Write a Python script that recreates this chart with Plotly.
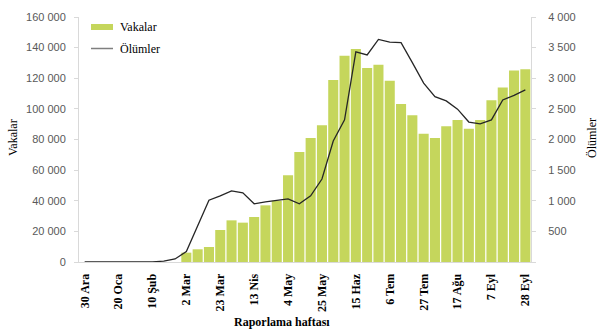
import plotly.graph_objects as go

# ---- data ----
week_days = [30, 6, 13, 20, 27, 3, 10, 17, 24, 2, 9, 16, 23, 30, 6, 13, 20, 27, 4, 11,
             18, 25, 1, 8, 15, 22, 29, 6, 13, 20, 27, 3, 10, 17, 24, 31, 7, 14, 21, 28]
week_months = ["Ara", "Oca", "Oca", "Oca", "Oca", "Şub", "Şub", "Şub", "Şub", "Mar",
               "Mar", "Mar", "Mar", "Mar", "Nis", "Nis", "Nis", "Nis", "May", "May",
               "May", "May", "Haz", "Haz", "Haz", "Haz", "Haz", "Tem", "Tem", "Tem",
               "Tem", "Ağu", "Ağu", "Ağu", "Ağu", "Ağu", "Eyl", "Eyl", "Eyl", "Eyl"]
weeks = [f"{d} {m}" for d, m in zip(week_days, week_months)]

cases = [0, 0, 0, 0, 0, 0, 0, 0, 0,
         6100, 8300, 9800, 20900, 27200, 25700, 29400, 37000, 40000, 56600, 71800,
         81000, 89300, 118800, 134700, 139100, 126700, 128800, 118400, 103200, 95800,
         83800, 81000, 88600, 92700, 87000, 92700, 105600, 114000, 125100, 125800]

deaths = [0, 0, 0, 0, 0, 0, 2, 15, 50, 170, 590, 1010, 1080, 1160, 1130, 950, 980, 1000,
          1030, 950, 1080, 1355, 1975, 2320, 3430, 3380, 3635, 3590, 3580, 3255, 2920,
          2700, 2630, 2495, 2285, 2255, 2320, 2645, 2720, 2810]

shown_ticks = weeks[::3]

series_names = ["Vakalar", "Ölümler"]
x_title = "Raporlama haftası"

BAR = "#C5D65C"
LINE = "#262626"
AXIS = "#D9D9D9"
TICKTXT = "#595959"

W, H = 605, 334
L, R, T, B = 79, 531, 17, 262


def px(x):
    return (x - L) / (R - L)


def py(y):
    return (B - y) / (B - T)


fig = go.Figure()
fig.add_trace(go.Bar(x=weeks, y=cases, name=series_names[0], marker_color=BAR,
                     marker_line_width=0, showlegend=False))
fig.add_trace(go.Scatter(x=weeks, y=deaths, name=series_names[1], mode="lines",
                         line=dict(color=LINE, width=1.3), yaxis="y2", showlegend=False))

tickfont = dict(family="Liberation Sans", size=11, color=TICKTXT)

fig.update_layout(
    width=W, height=H,
    margin=dict(l=L, r=W - R, t=T, b=H - B),
    paper_bgcolor="white", plot_bgcolor="white",
    separators=". ",
    bargap=0.11,
    xaxis=dict(type="category", tickmode="array", tickvals=shown_ticks, ticktext=shown_ticks,
               tickangle=-90, showgrid=False, showline=True, linecolor=AXIS, linewidth=1,
               ticks="", ticklabelstandoff=6,
               tickfont=dict(family="Liberation Serif", size=12, color="black", weight="bold"),
               range=[-0.5, 39.5]),
    yaxis=dict(range=[0, 160000], dtick=20000, tickformat=",d", showgrid=False,
               showline=True, linecolor=AXIS, linewidth=1, ticks="outside", ticklen=4,
               tickcolor=AXIS, tickfont=tickfont, ticklabelstandoff=6, zeroline=False),
    yaxis2=dict(range=[0, 4000], overlaying="y", side="right", tickmode="array",
                tickvals=[0, 500, 1000, 1500, 2000, 2500, 3000, 3500, 4000],
                ticktext=["", "500", "1 000", "1 500", "2 000", "2 500", "3 000", "3 500", "4 000"],
                showgrid=False, showline=True, linecolor=AXIS, linewidth=1,
                ticks="outside", ticklen=4, tickcolor=AXIS, tickfont=tickfont,
                ticklabelstandoff=10, zeroline=False),
)

serif = dict(family="Liberation Serif", size=12, color="black")

# axis titles
fig.add_annotation(text=series_names[0], x=px(13), y=py(138), xref="paper", yref="paper",
                   textangle=-90, showarrow=False, font=serif, xanchor="center", yanchor="middle")
fig.add_annotation(text=series_names[1], x=px(592), y=py(138), xref="paper", yref="paper",
                   textangle=-90, showarrow=False, font=serif, xanchor="center", yanchor="middle")
fig.add_annotation(text=x_title, x=px(282), y=py(322), xref="paper", yref="paper",
                   showarrow=False, font=dict(family="Liberation Serif", size=12, color="black",
                                              weight="bold"),
                   xanchor="center", yanchor="middle")

# legend
fig.add_shape(type="rect", xref="paper", yref="paper", x0=px(91), x1=px(113),
              y0=py(30), y1=py(24), fillcolor=BAR, line_width=0)
fig.add_shape(type="line", xref="paper", yref="paper", x0=px(91), x1=px(113),
              y0=py(48.5), y1=py(48.5), line=dict(color="#7F7F7F", width=1.5))
fig.add_annotation(text=series_names[0], x=px(118), y=py(27), xref="paper", yref="paper",
                   showarrow=False, font=serif, xanchor="left", yanchor="middle")
fig.add_annotation(text=series_names[1], x=px(118), y=py(49), xref="paper", yref="paper",
                   showarrow=False, font=serif, xanchor="left", yanchor="middle")

fig.write_html("out.html")
